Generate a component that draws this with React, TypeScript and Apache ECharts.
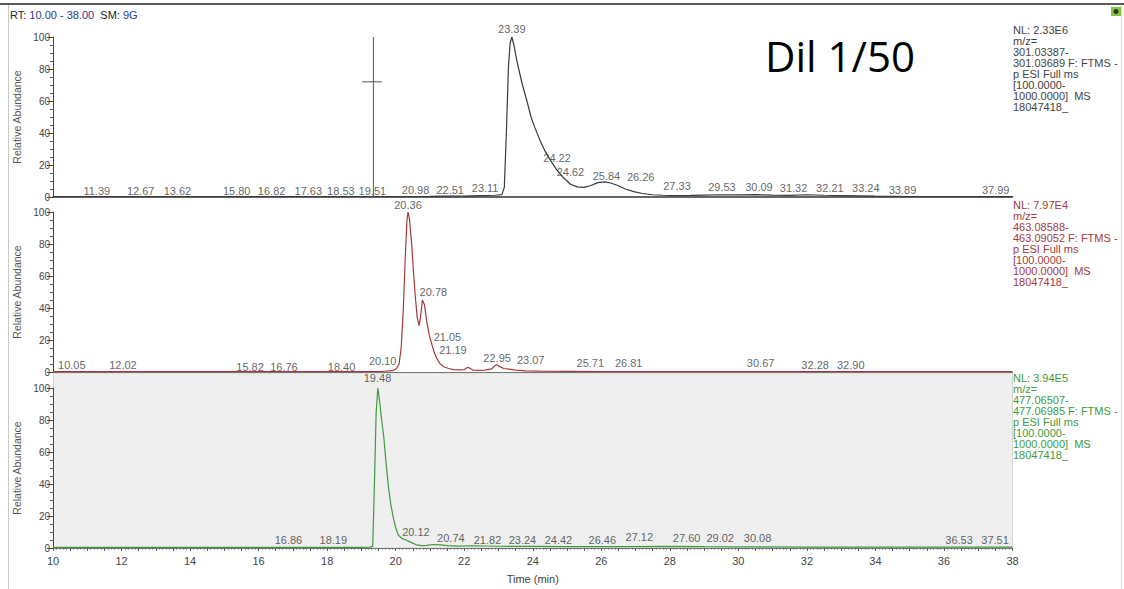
import React, { useEffect, useRef } from "react";
import * as echarts from "echarts";

// ---------- axis ranges ----------
const RT_MIN = 10;
const RT_MAX = 38;
const Y_TICKS = [0, 20, 40, 60, 80, 100];

// ---------- panel 1 : m/z 301.03387-301.03689 (black) ----------
const trace1Rt = [10, 11, 12, 13, 14, 15, 16, 17, 18, 19, 20, 21, 21.5, 22, 22.5, 22.9, 23.1, 23.17, 23.23, 23.29, 23.34, 23.39, 23.45, 23.52, 23.59, 23.7, 23.83, 23.95, 24.05, 24.2, 24.35, 24.5, 24.7, 24.9, 25.1, 25.3, 25.5, 25.7, 25.9, 26.1, 26.3, 26.5, 26.7, 26.95, 27.2, 27.5, 27.8, 28.2, 28.6, 29, 29.5, 30, 30.5, 31, 31.5, 32, 32.5, 33, 34, 35, 36, 37, 38];
const trace1Abund = [0.3, 0.3, 0.3, 0.3, 0.3, 0.3, 0.3, 0.3, 0.3, 0.3, 0.3, 0.4, 0.5, 0.6, 0.9, 1.1, 1.5, 6, 40, 81, 96, 100, 95, 87, 80, 70, 60, 50, 44, 36, 29, 23.5, 17, 12, 8, 6.3, 6, 7.2, 9, 9.5, 8.6, 7, 5, 3.4, 2.2, 1.4, 1.1, 0.9, 1.0, 1.2, 1.4, 1.3, 1.5, 1.2, 1.0, 1.4, 1.1, 0.9, 0.5, 0.3, 0.2, 0.2, 0.2];
const marker1Rt = 19.35;
const marker1Level = 72;
const labels1Text = ["11.39", "12.67", "13.62", "15.80", "16.82", "17.63", "18.53", "19.51", "20.98", "22.51", "23.11", "23.39", "24.22", "24.62", "25.84", "26.26", "27.33", "29.53", "30.09", "31.32", "32.21", "33.24", "33.89", "37.99"];
const labels1X = [11.28, 12.56, 13.63, 15.36, 16.38, 17.45, 18.40, 19.32, 20.58, 21.59, 22.61, 23.39, 24.71, 25.10, 26.15, 27.15, 28.21, 29.52, 30.60, 31.61, 32.67, 33.72, 34.79, 37.51];
const labels1Y = [3.9, 3.9, 3.9, 3.9, 3.9, 3.9, 3.9, 3.9, 4.4, 4.4, 5.8, 104.8, 24.2, 15.4, 13.3, 12.7, 7.1, 6.4, 6.4, 5.6, 5.4, 5.4, 4.4, 4.4];

// ---------- panel 2 : m/z 463.08588-463.09052 (red) ----------
const trace2Rt = [10, 11, 12, 13, 14, 15, 16, 17, 18, 19, 19.6, 19.9, 20.02, 20.1, 20.16, 20.22, 20.28, 20.33, 20.36, 20.4, 20.47, 20.52, 20.57, 20.63, 20.68, 20.73, 20.78, 20.84, 20.91, 20.98, 21.06, 21.13, 21.2, 21.3, 21.4, 21.55, 21.7, 21.85, 22.0, 22.1, 22.15, 22.25, 22.4, 22.6, 22.8, 22.9, 22.96, 23.05, 23.15, 23.3, 23.5, 23.8, 24.2, 25, 26, 27, 28, 30, 32, 34, 36, 38];
const trace2Abund = [0.2, 0.2, 0.2, 0.2, 0.2, 0.2, 0.2, 0.2, 0.2, 0.2, 0.3, 0.8, 2, 5, 15, 38, 72, 95, 100, 96, 79, 62, 48, 34, 29, 35, 45, 42, 31, 23, 17, 12, 8.5, 5, 3.3, 2.2, 1.5, 1.3, 1.4, 3, 2.5, 1.2, 1.0, 1.2, 2.0, 4, 4.5, 3.2, 2.2, 1.8, 1.2, 0.7, 0.5, 0.4, 0.3, 0.3, 0.3, 0.3, 0.3, 0.3, 0.3, 0.3];
const labels2Text = ["20.36", "10.05", "12.02", "15.82", "16.76", "18.40", "20.10", "20.78", "21.05", "21.19", "22.95", "23.07", "25.71", "26.81", "30.67", "32.28", "32.90"];
const labels2X = [20.36, 10.55, 12.04, 15.75, 16.74, 18.42, 19.62, 21.10, 21.51, 21.67, 22.96, 23.94, 25.68, 26.80, 30.65, 32.24, 33.28];
const labels2Y = [104.4, 4.4, 4.4, 3.3, 3.3, 3.3, 7.1, 50.2, 22.1, 13.8, 8.6, 7.5, 5.4, 5.4, 5.4, 4.4, 4.4];

// ---------- panel 3 : m/z 477.06507-477.06985 (green) ----------
const trace3Rt = [10, 11, 12, 13, 14, 15, 16, 17, 18, 19, 19.25, 19.33, 19.38, 19.43, 19.48, 19.53, 19.59, 19.65, 19.72, 19.79, 19.86, 19.94, 20.01, 20.08, 20.18, 20.3, 20.45, 20.6, 20.75, 20.9, 21.1, 21.3, 21.5, 21.8, 22.2, 23, 24, 25, 26, 27, 28, 29, 30, 32, 34, 36, 38];
const trace3Abund = [0.4, 0.4, 0.4, 0.4, 0.4, 0.4, 0.4, 0.4, 0.4, 0.4, 0.5, 1, 40, 85, 100, 92, 80, 70, 53, 38, 27, 18, 12, 8, 6, 5, 3.5, 2, 1.5, 1.6, 2.2, 2.0, 1.5, 1.2, 1.4, 1.1, 1.0, 0.9, 0.8, 0.8, 1.0, 0.8, 0.7, 0.6, 0.5, 0.5, 0.5];
const labels3Text = ["19.48", "16.86", "18.19", "20.12", "20.74", "21.82", "23.24", "24.42", "26.46", "27.12", "27.60", "29.02", "30.08", "36.53", "37.51"];
const labels3X = [19.47, 16.87, 18.18, 20.59, 21.61, 22.68, 23.70, 24.75, 26.03, 27.11, 28.49, 29.47, 30.56, 36.44, 37.49];
const labels3Y = [106, 5, 5, 10.2, 6.1, 5, 5, 5, 5, 7.1, 6.1, 6.1, 6.1, 5, 5];

// ---------- texts ----------
const infoLines1 = ["NL: 2.33E6", "m/z=", "301.03387-", "301.03689 F: FTMS -", "p ESI Full ms", "[100.0000-", "1000.0000]  MS", "18047418_"];
const infoLines2 = ["NL: 7.97E4", "m/z=", "463.08588-", "463.09052 F: FTMS -", "p ESI Full ms", "[100.0000-", "1000.0000]  MS", "18047418_"];
const infoLines3 = ["NL: 3.94E5", "m/z=", "477.06507-", "477.06985 F: FTMS -", "p ESI Full ms", "[100.0000-", "1000.0000]  MS", "18047418_"];
const titleText = "Dil 1/50";

// ---------- layout / style ----------
const W = 1124;
const H = 589;
const FONT = "'Liberation Sans', Arial, sans-serif";
const PLOT_LEFT = 53;
const PLOT_RIGHT_EDGE = 1012.5;
const PANEL_TOPS = [37, 212, 388];
const PANEL_H = 160;
const COLORS = ["#3a3a3a", "#a8383a", "#3f9a3f"];
const INFO_COLORS = ["#444444", "#a53a3c", "#3d9a3d"];

function zip(a: number[], b: number[]) {
  return a.map((v, i) => [v, b[i]]);
}

function labelSeries(idx: number, texts: string[], xs: number[], ys: number[]) {
  return {
    type: "scatter",
    xAxisIndex: idx,
    yAxisIndex: idx,
    silent: true,
    clip: false,
    symbolSize: 1,
    itemStyle: { color: "rgba(0,0,0,0)" },
    z: 5,
    label: {
      show: true,
      position: "inside",
      formatter: (p: any) => p.name,
      color: "#3a3a3a",
      fontSize: 11,
      fontFamily: FONT,
    },
    data: texts.map((t, i) => ({ name: t, value: [xs[i], ys[i]] })),
  };
}

export default function App() {
  const ref = useRef<HTMLDivElement>(null);
  useEffect(() => {
    if (!ref.current) return;
    const chart = echarts.init(ref.current, undefined, { renderer: "svg" });

    const grids = PANEL_TOPS.map((t) => ({
      left: PLOT_LEFT,
      right: W - PLOT_RIGHT_EDGE,
      top: t,
      height: PANEL_H,
      containLabel: false,
    }));

    const xAxes = PANEL_TOPS.map((_, i) => {
      const bottom = i === 2;
      return {
        type: "value",
        gridIndex: i,
        min: RT_MIN,
        max: RT_MAX,
        interval: 0.5,
        axisLine: { show: true, lineStyle: { color: i === 0 ? "#333" : "#777", width: i === 0 ? 1.5 : 1 } },
        axisTick: { show: bottom, length: 3, lineStyle: { color: "#555" } },
        minorTick: { show: bottom, splitNumber: 5, length: 1.5, lineStyle: { color: "#666" } },
        splitLine: { show: false },
        axisLabel: {
          show: bottom,
          fontSize: 11,
          fontFamily: FONT,
          color: "#444",
          margin: 7,
          formatter: (v: number) => (Math.round(v * 2) % 4 === 0 ? String(Math.round(v)) : ""),
        },
        name: bottom ? "Time (min)" : "",
        nameLocation: "middle",
        nameGap: 25,
        nameTextStyle: { fontSize: 11, fontFamily: FONT, color: "#444" },
      };
    });

    const yAxes = PANEL_TOPS.map((_, i) => ({
      type: "value",
      gridIndex: i,
      min: Y_TICKS[0],
      max: Y_TICKS[Y_TICKS.length - 1],
      interval: 20,
      axisLine: { show: true, lineStyle: { color: "#444" } },
      axisTick: { show: true, length: 6, lineStyle: { color: "#444" } },
      minorTick: { show: true, splitNumber: 4, length: 3, lineStyle: { color: "#555" } },
      splitLine: { show: false },
      axisLabel: { fontSize: 10, fontFamily: FONT, color: "#444", margin: 3 },
      name: "Relative Abundance",
      nameLocation: "middle",
      nameGap: 30,
      nameTextStyle: { fontSize: 10.5, fontFamily: FONT, color: "#555" },
    }));

    const traceSeries = [
      zip(trace1Rt, trace1Abund),
      zip(trace2Rt, trace2Abund),
      zip(trace3Rt, trace3Abund),
    ].map((d, i) => ({
      type: "line",
      xAxisIndex: i,
      yAxisIndex: i,
      data: d,
      showSymbol: false,
      silent: true,
      lineStyle: { color: COLORS[i], width: 1.2 },
      z: 3,
    }));

    const markerSeries = [
      [
        [marker1Rt, 0],
        [marker1Rt, 100],
      ],
      [
        [marker1Rt - 0.33, marker1Level],
        [marker1Rt + 0.25, marker1Level],
      ],
    ].map((d) => ({
      type: "line",
      xAxisIndex: 0,
      yAxisIndex: 0,
      data: d,
      showSymbol: false,
      silent: true,
      lineStyle: { color: "#555", width: 1 },
      z: 4,
    }));

    const infoText = (lines: string[], y: number, color: string) => ({
      type: "text",
      x: PLOT_RIGHT_EDGE + 0.5,
      y,
      style: {
        text: lines.join("\n"),
        fill: color,
        fontSize: 11,
        fontFamily: FONT,
        lineHeight: 11,
        verticalAlign: "top",
        align: "left",
      },
    });

    const option = {
      animation: false,
      backgroundColor: "#ffffff",
      grid: grids,
      xAxis: xAxes,
      yAxis: yAxes,
      series: [
        ...traceSeries,
        ...markerSeries,
        labelSeries(0, labels1Text, labels1X, labels1Y),
        labelSeries(1, labels2Text, labels2X, labels2Y),
        labelSeries(2, labels3Text, labels3X, labels3Y),
      ],
      graphic: [
        {
          type: "rect",
          z: -1,
          silent: true,
          shape: { x: PLOT_LEFT + 0.5, y: PANEL_TOPS[1] + PANEL_H + 1, width: PLOT_RIGHT_EDGE - PLOT_LEFT - 0.5, height: PANEL_TOPS[2] + PANEL_H - (PANEL_TOPS[1] + PANEL_H + 1) },
          style: { fill: "#efefef", stroke: "#d6d6d6", lineWidth: 1 },
        },
        { type: "line", shape: { x1: 0, y1: 4, x2: W, y2: 4 }, style: { stroke: "#222", lineWidth: 1.5 } },
        { type: "line", shape: { x1: 8.5, y1: 5, x2: 8.5, y2: H }, style: { stroke: "#c8c8c8", lineWidth: 1 } },
        { type: "line", shape: { x1: 1121.5, y1: 5, x2: 1121.5, y2: H }, style: { stroke: "#dddddd", lineWidth: 1 } },
        { type: "rect", shape: { x: 1111, y: 7, width: 10, height: 9 }, style: { fill: "#86c440" } },
        { type: "circle", shape: { cx: 1116, cy: 11.5, r: 2.5 }, style: { fill: "#2d3a2a" } },
        {
          type: "text",
          x: 10,
          y: 15,
          style: {
            text: "{a|RT:} {b|10.00 - 38.00}  {a|SM:} {b|9G}",
            fontSize: 11,
            fontFamily: FONT,
            verticalAlign: "middle",
            rich: {
              a: { fill: "#222", fontSize: 11, fontFamily: FONT },
              b: { fill: "#2b3990", fontSize: 11, fontFamily: FONT },
            },
          },
        },
        {
          type: "text",
          x: 765,
          y: 55,
          style: {
            text: titleText,
            fill: "#000",
            fontSize: 42,
            fontFamily: "'Open Sans', 'Noto Sans', sans-serif",
            verticalAlign: "middle",
            align: "left",
          },
        },
        infoText(infoLines1, 24.5, INFO_COLORS[0]),
        infoText(infoLines2, 199.5, INFO_COLORS[1]),
        infoText(infoLines3, 372.5, INFO_COLORS[2]),
      ],
    };

    chart.setOption(option as any);
    return () => chart.dispose();
  }, []);

  return (
    <div
      ref={ref}
      style={{ position: "absolute", left: 0, top: 0, width: W, height: H, background: "#fff" }}
    />
  );
}
